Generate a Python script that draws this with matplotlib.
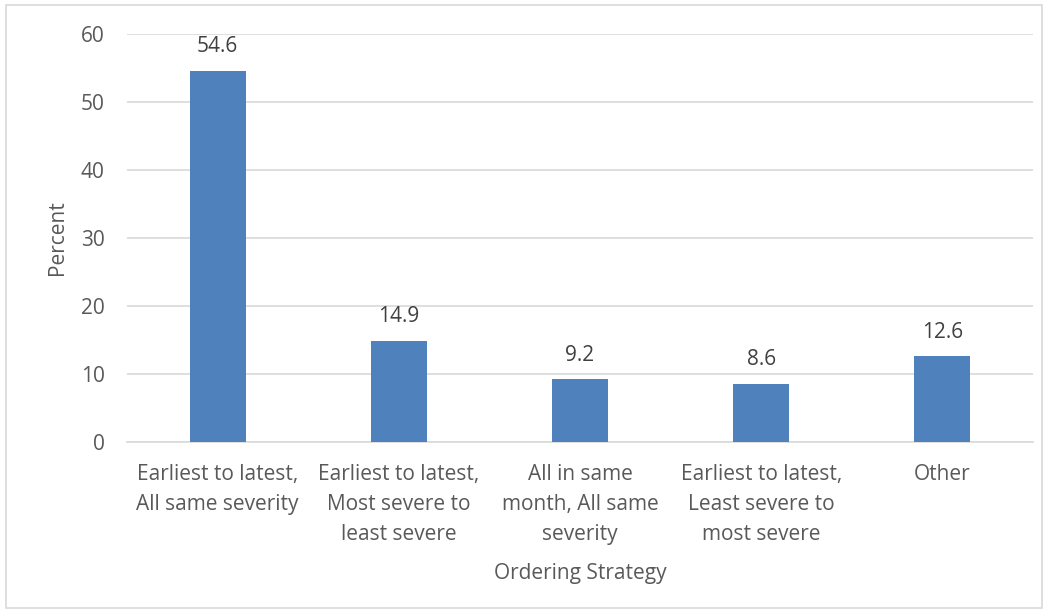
import matplotlib.pyplot as plt
from matplotlib.patches import Rectangle

categories = ["Earliest to latest,\nAll same severity",
              "Earliest to latest,\nMost severe to\nleast severe",
              "All in same\nmonth, All same\nseverity",
              "Earliest to latest,\nLeast severe to\nmost severe",
              "Other"]
values = [54.6, 14.9, 9.2, 8.6, 12.6]
yticks = [0, 10, 20, 30, 40, 50, 60]

plt.rcParams['font.family'] = ['Open Sans', 'DejaVu Sans']

fig = plt.figure(figsize=(10.49, 6.16), dpi=100)
ax = fig.add_axes([127/1049, 1-442/616, 906/1049, 408/616])

x = range(len(values))
bars = ax.bar(x, values, width=0.31, color="#4F81BD", zorder=3)
for xi, v in zip(x, values):
    ax.text(xi, v + 2.0, f"{v:.1f}", ha="center", va="bottom", fontsize=15, color="#404040")

ax.set_xlim(-0.5, len(values) - 0.5)
ax.set_ylim(0, 60)
ax.set_yticks(yticks)
ax.set_yticklabels([str(t) for t in yticks], fontsize=15, color="#595959")
ax.set_xticks(list(x))
ax.set_xticklabels(categories, fontsize=15, color="#595959", linespacing=1.55, va="top")
ax.tick_params(axis="both", length=0)
ax.tick_params(axis="y", pad=16)
ax.tick_params(axis="x", pad=16)
ax.grid(axis="y", color="#D9D9D9", linewidth=1.2, zorder=0)
for s in ["top", "right", "left"]:
    ax.spines[s].set_visible(False)
ax.spines["bottom"].set_color("#D9D9D9")
ax.spines["bottom"].set_linewidth(1.2)

ax.set_ylabel("Percent", fontsize=15, color="#595959", labelpad=9)
ax.set_xlabel("Ordering Strategy", fontsize=15, color="#595959", labelpad=13)

fig.patches.append(Rectangle((6/1049, 8/616), 1036/1049, 603/616, transform=fig.transFigure,
                             fill=False, edgecolor="#D9D9D9", linewidth=1.2))

fig.savefig("out.png", dpi=100)
